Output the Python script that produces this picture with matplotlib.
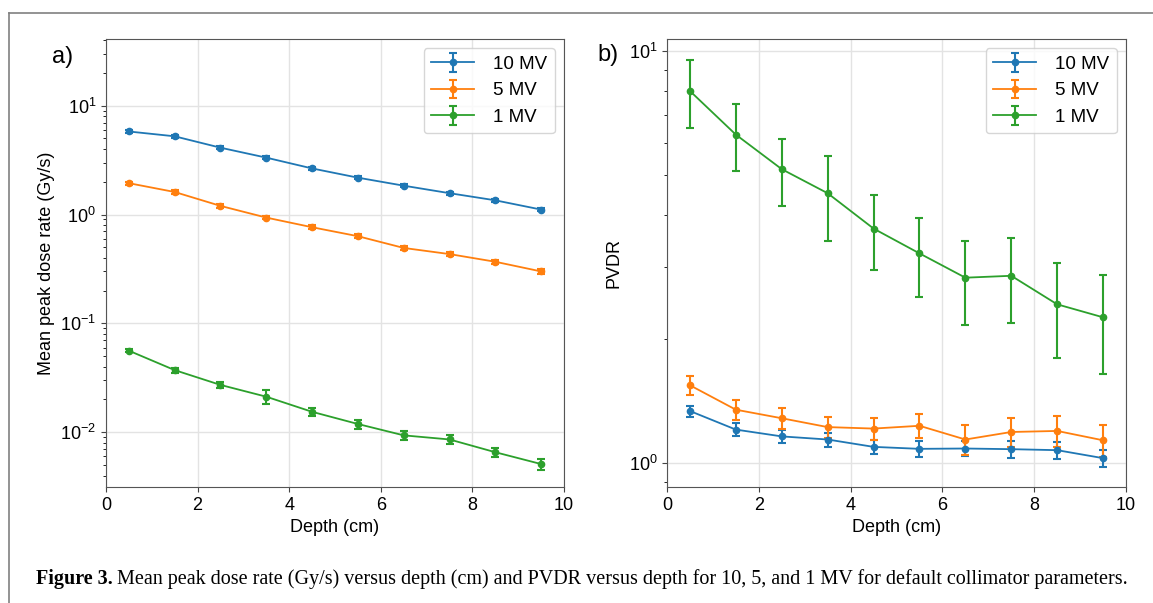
import matplotlib
matplotlib.use('Agg')
from matplotlib import pyplot as plt
from matplotlib.lines import Line2D
from matplotlib.ticker import NullFormatter

plt.rcParams['font.family'] = ['Liberation Sans', 'DejaVu Sans']
plt.rcParams['mathtext.fontset'] = 'custom'
plt.rcParams['mathtext.rm'] = 'Liberation Sans'
plt.rcParams['mathtext.it'] = 'Liberation Sans:italic'
plt.rcParams['mathtext.bf'] = 'Liberation Sans:bold'
plt.rcParams['mathtext.default'] = 'regular'

depth = [0.5, 1.5, 2.5, 3.5, 4.5, 5.5, 6.5, 7.5, 8.5, 9.5]
labels = ['10 MV', '5 MV', '1 MV']
colors = ['tab:blue', 'tab:orange', 'tab:green']

# a) mean peak dose rate (Gy/s)
dose_10 = [5.79, 5.23, 4.11, 3.33, 2.65, 2.18, 1.84, 1.57, 1.35, 1.11]
dose_10_err = [0.2, 0.18, 0.15, 0.12, 0.1, 0.08, 0.065, 0.055, 0.05, 0.04]
dose_5 = [1.94, 1.61, 1.20, 0.937, 0.764, 0.632, 0.493, 0.433, 0.368, 0.300]
dose_5_err = [0.07, 0.06, 0.045, 0.035, 0.03, 0.025, 0.02, 0.018, 0.017, 0.014]
dose_1 = [0.0561, 0.0372, 0.0272, 0.0212, 0.0154, 0.0119, 0.00936, 0.00858, 0.00655, 0.0051]
dose_1_err = [0.002, 0.002, 0.0018, 0.003, 0.0012, 0.0011, 0.0009, 0.0008, 0.0006, 0.0006]

# b) PVDR
pvdr_10 = [1.339, 1.207, 1.162, 1.142, 1.096, 1.084, 1.086, 1.082, 1.076, 1.029]
pvdr_10_err = [0.041, 0.042, 0.041, 0.044, 0.045, 0.047, 0.047, 0.052, 0.049, 0.05]
pvdr_5 = [1.546, 1.349, 1.286, 1.224, 1.214, 1.233, 1.142, 1.191, 1.198, 1.137]
pvdr_5_err = [0.078, 0.077, 0.073, 0.074, 0.077, 0.083, 0.095, 0.095, 0.105, 0.103]
pvdr_1 = [8.0, 6.27, 5.17, 4.52, 3.71, 3.23, 2.82, 2.85, 2.43, 2.26]
pvdr_1_err = [1.5, 1.15, 0.95, 1.05, 0.77, 0.7, 0.65, 0.66, 0.63, 0.61]

fig = plt.figure(figsize=(11.53, 6.03), dpi=100)
ax1 = fig.add_axes([0.0919, 0.1924, 0.3973, 0.743])
ax2 = fig.add_axes([0.5785, 0.1924, 0.3981, 0.743])

panels = [
    (ax1, [dose_10, dose_5, dose_1], [dose_10_err, dose_5_err, dose_1_err]),
    (ax2, [pvdr_10, pvdr_5, pvdr_1], [pvdr_10_err, pvdr_5_err, pvdr_1_err]),
]

for ax, series, errs in panels:
    for y, e, lab, c in zip(series, errs, labels, colors):
        ax.errorbar(depth, y, yerr=e, color=c, label=lab, marker='o', markersize=4.5,
                    linewidth=1.3, elinewidth=1.5, capsize=3, capthick=1.5)
    ax.set_yscale('log')
    ax.set_xlim(0, 10)
    ax.set_xlabel('Depth (cm)', fontsize=13)
    ax.grid(True, which='major', color='#e3e3e3', linewidth=1)
    ax.set_axisbelow(True)
    ax.tick_params(labelsize=13, color='#444444')
    ax.yaxis.set_minor_formatter(NullFormatter())
    for s in ax.spines.values():
        s.set_color('#555555')
    ax.legend(loc='upper right', fontsize=13.5, handlelength=2.3, handletextpad=1.0)

ax1.set_ylim(0.00314, 41)
ax1.set_ylabel('Mean peak dose rate (Gy/s)', fontsize=13)
ax2.set_ylim(0.876, 10.7)
ax2.set_ylabel('PVDR', fontsize=13)

fig.text(0.045, 0.905, 'a)', fontsize=17, va='center', ha='left')
fig.text(0.518, 0.909, 'b)', fontsize=17, va='center', ha='left')

# frame lines of the page
fig.add_artist(Line2D([0.0078, 1.0], [0.979, 0.979], color='#808080', linewidth=1.2))
fig.add_artist(Line2D([0.0078, 0.0078], [0.0, 0.979], color='#808080', linewidth=1.2))

cap_y = 1 - 579 / 603
t1 = fig.text(36 / 1153, cap_y, 'Figure 3.', fontsize=14.5, fontweight='bold',
              family='Liberation Serif', va='center', ha='left')
fig.canvas.draw()
bb = t1.get_window_extent()
fig.text((bb.x1 + 4) / 1153, cap_y,
         'Mean peak dose rate (Gy/s) versus depth (cm) and PVDR versus depth for 10, 5, and 1 MV '
         'for default collimator parameters.',
         fontsize=14.5, family='Liberation Serif', va='center', ha='left')

fig.savefig('out.png', dpi=100)
